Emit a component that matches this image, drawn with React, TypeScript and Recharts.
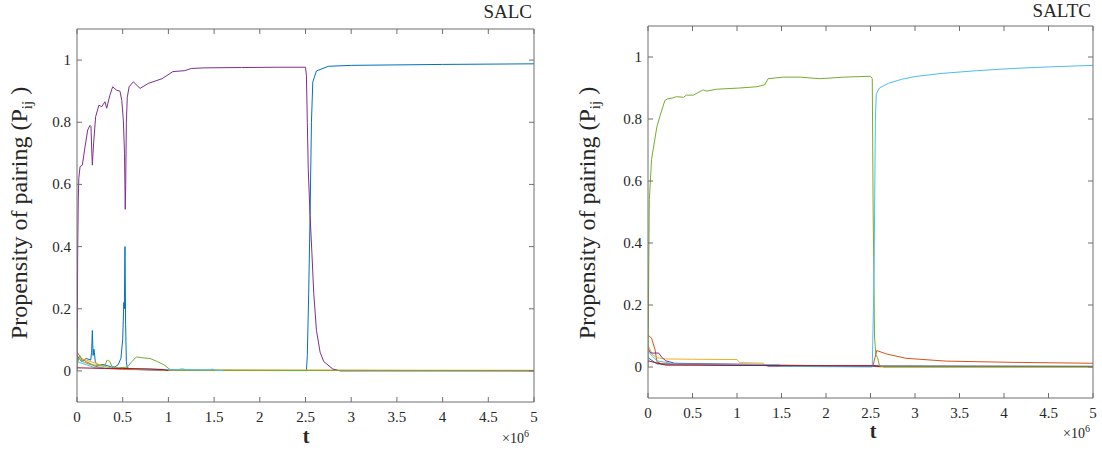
import React from 'react';
import { LineChart, Line, XAxis, YAxis } from 'recharts';

// t is in units of 10^6
const xTicks = [0, 0.5, 1, 1.5, 2, 2.5, 3, 3.5, 4, 4.5, 5];
const yTicks = [0, 0.2, 0.4, 0.6, 0.8, 1];

// MATLAB default colour order
const BLUE = '#0072BD';
const ORANGE = '#D95319';
const YELLOW = '#EDB120';
const PURPLE = '#7E2F8E';
const GREEN = '#77AC30';
const CYAN = '#4DBEEE';
const RED = '#A2142F';

// ---- SALC (left) ----
const salcBlueT = [0, 0.05, 0.1, 0.15, 0.16, 0.168, 0.176, 0.185, 0.19, 0.2, 0.22, 0.3, 0.4, 0.45, 0.48, 0.5, 0.512, 0.518, 0.525, 0.532, 0.54, 0.55, 0.6, 1.0, 2.5, 2.51, 2.52, 2.535, 2.55, 2.565, 2.58, 2.62, 2.75, 3.0, 4.0, 5];
const salcBlueP = [0.05, 0.03, 0.04, 0.035, 0.06, 0.13, 0.05, 0.07, 0.06, 0.03, 0.02, 0.02, 0.01, 0.02, 0.04, 0.1, 0.22, 0.2, 0.4, 0.15, 0.03, 0.01, 0.005, 0.002, 0.001, 0, 0.05, 0.25, 0.5, 0.8, 0.93, 0.965, 0.98, 0.983, 0.986, 0.988];
const salcOrangeT = [0, 0.05, 0.1, 0.2, 0.3, 0.5, 1, 5];
const salcOrangeP = [0.06, 0.04, 0.03, 0.015, 0.008, 0.005, 0.002, 0.001];
const salcYellowT = [0, 0.1, 0.2, 0.3, 0.4, 1, 5];
const salcYellowP = [0.04, 0.035, 0.025, 0.015, 0.008, 0.003, 0.002];
const salcPurpleT = [0, 0.003, 0.008, 0.014, 0.02, 0.033, 0.058, 0.0875, 0.117, 0.142, 0.153, 0.16, 0.168, 0.175, 0.182, 0.204, 0.24, 0.27, 0.306, 0.325, 0.36, 0.39, 0.434, 0.47, 0.49, 0.507, 0.52, 0.528, 0.533, 0.54, 0.55, 0.57, 0.616, 0.69, 0.78, 0.93, 1.05, 1.18, 1.25, 1.4, 1.8, 2.2, 2.5, 2.51, 2.52, 2.53, 2.55, 2.57, 2.59, 2.62, 2.66, 2.7, 2.8, 2.88, 5];
const salcPurpleP = [0, 0.13, 0.4, 0.55, 0.62, 0.657, 0.662, 0.72, 0.775, 0.79, 0.786, 0.72, 0.662, 0.7, 0.733, 0.818, 0.855, 0.85, 0.866, 0.845, 0.887, 0.914, 0.903, 0.9, 0.87, 0.807, 0.7, 0.52, 0.6, 0.8, 0.88, 0.914, 0.93, 0.909, 0.925, 0.94, 0.963, 0.966, 0.973, 0.975, 0.976, 0.977, 0.977, 0.95, 0.8, 0.65, 0.5, 0.38, 0.25, 0.13, 0.06, 0.03, 0.006, 0, 0];
const salcGreenT = [0, 0.03, 0.06, 0.15, 0.3, 0.33, 0.36, 0.38, 0.45, 0.55, 0.6, 0.65, 0.72, 0.8, 0.88, 0.95, 1.02, 1.1, 5];
const salcGreenP = [0.02, 0.05, 0.03, 0.02, 0.015, 0.035, 0.03, 0.015, 0.01, 0.012, 0.03, 0.045, 0.042, 0.04, 0.03, 0.02, 0.004, 0.002, 0.001];
const salcCyanT = [0, 0.1, 0.2, 1.1, 1.15, 1.2, 1.45, 1.48, 1.52, 1.6];
const salcCyanP = [0.03, 0.02, 0.01, 0.004, 0.007, 0.004, 0.003, 0.006, 0.002, 0.001];
const salcRedT = [0, 0.3, 0.5, 0.8, 0.95, 1.0];
const salcRedP = [0.01, 0.008, 0.008, 0.006, 0.004, 0.001];

// ---- SALTC (right) ----
const saltcBlueT = [0, 0.1, 1.3, 2.5, 5];
const saltcBlueP = [0.03, 0.01, 0.006, 0.003, 0.002];
const saltcOrangeT = [0, 0.04, 0.08, 0.1, 0.15, 1.0, 2.5, 2.53, 2.57, 2.68, 2.9, 3.35, 4.1, 5];
const saltcOrangeP = [0.103, 0.093, 0.055, 0.017, 0.01, 0.006, 0.004, 0.006, 0.053, 0.042, 0.028, 0.019, 0.015, 0.012];
const saltcYellowT = [0, 0.05, 0.1, 0.2, 0.5, 1.0, 1.03, 1.3, 1.32, 2.5, 2.6, 5];
const saltcYellowP = [0.07, 0.04, 0.03, 0.026, 0.025, 0.024, 0.014, 0.012, 0.004, 0.003, 0, 0];
const saltcPurpleT = [0, 0.03, 0.12, 0.16, 0.2, 0.3, 1.3, 1.35, 5];
const saltcPurpleP = [0.06, 0.045, 0.045, 0.03, 0.02, 0.012, 0.008, 0.003, 0.002];
const saltcGreenT = [0, 0.008, 0.015, 0.04, 0.1, 0.135, 0.19, 0.22, 0.28, 0.32, 0.4, 0.43, 0.51, 0.62, 0.66, 0.77, 1.03, 1.22, 1.31, 1.35, 1.52, 1.71, 1.93, 2.2, 2.5, 2.52, 2.53, 2.545, 2.56, 2.58, 2.6, 2.65, 5];
const saltcGreenP = [0, 0.3, 0.54, 0.67, 0.775, 0.81, 0.86, 0.865, 0.868, 0.872, 0.87, 0.877, 0.877, 0.894, 0.89, 0.896, 0.9, 0.904, 0.91, 0.93, 0.935, 0.935, 0.93, 0.935, 0.938, 0.93, 0.5, 0.1, 0.04, 0.03, 0.005, 0, 0];
const saltcCyanT = [0, 0.1, 0.3, 1.3, 1.32, 1.47, 1.5, 2.52, 2.54, 2.555, 2.565, 2.6, 2.7, 2.85, 3.0, 3.3, 3.7, 4.1, 4.5, 5];
const saltcCyanP = [0.05, 0.02, 0.01, 0.008, 0.008, 0.008, 0.002, 0, 0.3, 0.8, 0.88, 0.9, 0.915, 0.928, 0.937, 0.947, 0.956, 0.963, 0.968, 0.973];
const saltcRedT = [0, 0.2, 1.0, 2.0, 2.55, 2.6];
const saltcRedP = [0.02, 0.006, 0.005, 0.004, 0.004, 0.002];

const AXIS = '#6e6e6e';
const INK = '#262626';
const SERIF = '"Liberation Serif", "Times New Roman", serif';

type Series = { t: number[]; p: number[]; color: string };

const zip = (t: number[], p: number[]) => t.map((x, i) => ({ t: x, p: p[i] }));

const BottomTick = (props: any) => {
  const { x, y, payload } = props;
  return (
    <g>
      <line x1={x} x2={x} y1={y} y2={y - 5} stroke={AXIS} />
      <text x={x} y={y + 20} textAnchor="middle" fontSize={15} fontFamily={SERIF} fill={INK}>
        {String(payload.value)}
      </text>
    </g>
  );
};

const TopTick = (props: any) => {
  const { x, y } = props;
  return <line x1={x} x2={x} y1={y} y2={y + 5} stroke={AXIS} />;
};

const LeftTick = (props: any) => {
  const { x, y, payload } = props;
  return (
    <g>
      <line x1={x} x2={x + 5} y1={y} y2={y} stroke={AXIS} />
      <text x={x - 6} y={y + 5} textAnchor="end" fontSize={15} fontFamily={SERIF} fill={INK}>
        {String(payload.value)}
      </text>
    </g>
  );
};

const RightTick = (props: any) => {
  const { x, y } = props;
  return <line x1={x} x2={x - 5} y1={y} y2={y} stroke={AXIS} />;
};

interface IPanel {
  series: Series[];
  width: number;
  margin: { top: number; right: number; bottom: number; left: number };
}

// axes take 1px each, so margins are one less than the plot offsets
const Panel = ({ series, width, margin }: IPanel) => (
  <LineChart width={width} height={450} margin={margin}>
    <XAxis
      dataKey="t"
      type="number"
      domain={[0, 5]}
      ticks={xTicks}
      allowDataOverflow
      height={1}
      tickSize={0}
      tickMargin={0}
      stroke={AXIS}
      tick={<BottomTick />}
    />
    <XAxis
      xAxisId="top"
      orientation="top"
      dataKey="t"
      type="number"
      domain={[0, 5]}
      ticks={xTicks}
      allowDataOverflow
      height={1}
      tickSize={0}
      tickMargin={0}
      stroke={AXIS}
      tick={<TopTick />}
    />
    <YAxis
      type="number"
      domain={[-0.1, 1.1]}
      ticks={yTicks}
      allowDataOverflow
      width={1}
      tickSize={0}
      tickMargin={0}
      stroke={AXIS}
      tick={<LeftTick />}
    />
    <YAxis
      yAxisId="right"
      orientation="right"
      type="number"
      domain={[-0.1, 1.1]}
      ticks={yTicks}
      allowDataOverflow
      width={1}
      tickSize={0}
      tickMargin={0}
      stroke={AXIS}
      tick={<RightTick />}
    />
    {series.map((s, i) => (
      <Line
        key={i}
        data={zip(s.t, s.p)}
        dataKey="p"
        type="linear"
        stroke={s.color}
        strokeWidth={1}
        dot={false}
        activeDot={false}
        isAnimationActive={false}
      />
    ))}
  </LineChart>
);

const salcSeries: Series[] = [
  { t: salcBlueT, p: salcBlueP, color: BLUE },
  { t: salcOrangeT, p: salcOrangeP, color: ORANGE },
  { t: salcYellowT, p: salcYellowP, color: YELLOW },
  { t: salcPurpleT, p: salcPurpleP, color: PURPLE },
  { t: salcGreenT, p: salcGreenP, color: GREEN },
  { t: salcCyanT, p: salcCyanP, color: CYAN },
  { t: salcRedT, p: salcRedP, color: RED },
];

const saltcSeries: Series[] = [
  { t: saltcBlueT, p: saltcBlueP, color: BLUE },
  { t: saltcOrangeT, p: saltcOrangeP, color: ORANGE },
  { t: saltcYellowT, p: saltcYellowP, color: YELLOW },
  { t: saltcPurpleT, p: saltcPurpleP, color: PURPLE },
  { t: saltcGreenT, p: saltcGreenP, color: GREEN },
  { t: saltcCyanT, p: saltcCyanP, color: CYAN },
  { t: saltcRedT, p: saltcRedP, color: RED },
];

const txt: React.CSSProperties = {
  position: 'absolute',
  fontFamily: SERIF,
  color: INK,
  whiteSpace: 'nowrap',
};

const YLabel = ({ cx, cy }: { cx: number; cy: number }) => (
  <div
    style={{
      ...txt,
      left: cx - 150,
      top: cy - 15,
      width: 300,
      height: 30,
      lineHeight: '30px',
      fontSize: 24,
      textAlign: 'center',
      transform: 'rotate(-90deg)',
    }}
  >
    Propensity of pairing (P
    <span style={{ fontSize: 15, position: 'relative', top: 5 }}>ij</span> )
  </div>
);

const Times10 = ({ left, top }: { left: number; top: number }) => (
  <div style={{ ...txt, left, top, fontSize: 14, lineHeight: '14px' }}>
    ×10<span style={{ fontSize: 10, position: 'relative', top: -6 }}>6</span>
  </div>
);

const App = () => (
  <div style={{ position: 'absolute', left: 0, top: 0, width: 1102, height: 450, background: '#fff' }}>
    <div style={{ position: 'absolute', left: 0, top: 0 }}>
      <Panel series={salcSeries} width={560} margin={{ top: 28, right: 25, bottom: 47, left: 76 }} />
    </div>
    <div style={{ position: 'absolute', left: 560, top: 0 }}>
      <Panel series={saltcSeries} width={542} margin={{ top: 25, right: 8, bottom: 51, left: 87 }} />
    </div>

    <div style={{ ...txt, right: 1102 - 532, top: 2, fontSize: 19, lineHeight: '19px' }}>SALC</div>
    <div style={{ ...txt, right: 1102 - 1091, top: 1, fontSize: 19, lineHeight: '19px' }}>SALTC</div>

    <YLabel cx={19} cy={212.5} />
    <YLabel cx={587} cy={213} />

    <div style={{ ...txt, left: 286, width: 40, textAlign: 'center', top: 426, fontSize: 20, lineHeight: '20px', fontWeight: 'bold' }}>t</div>
    <div style={{ ...txt, left: 853, width: 40, textAlign: 'center', top: 421, fontSize: 20, lineHeight: '20px', fontWeight: 'bold' }}>t</div>

    <Times10 left={502} top={432} />
    <Times10 left={1063} top={427} />
  </div>
);

export default App;
